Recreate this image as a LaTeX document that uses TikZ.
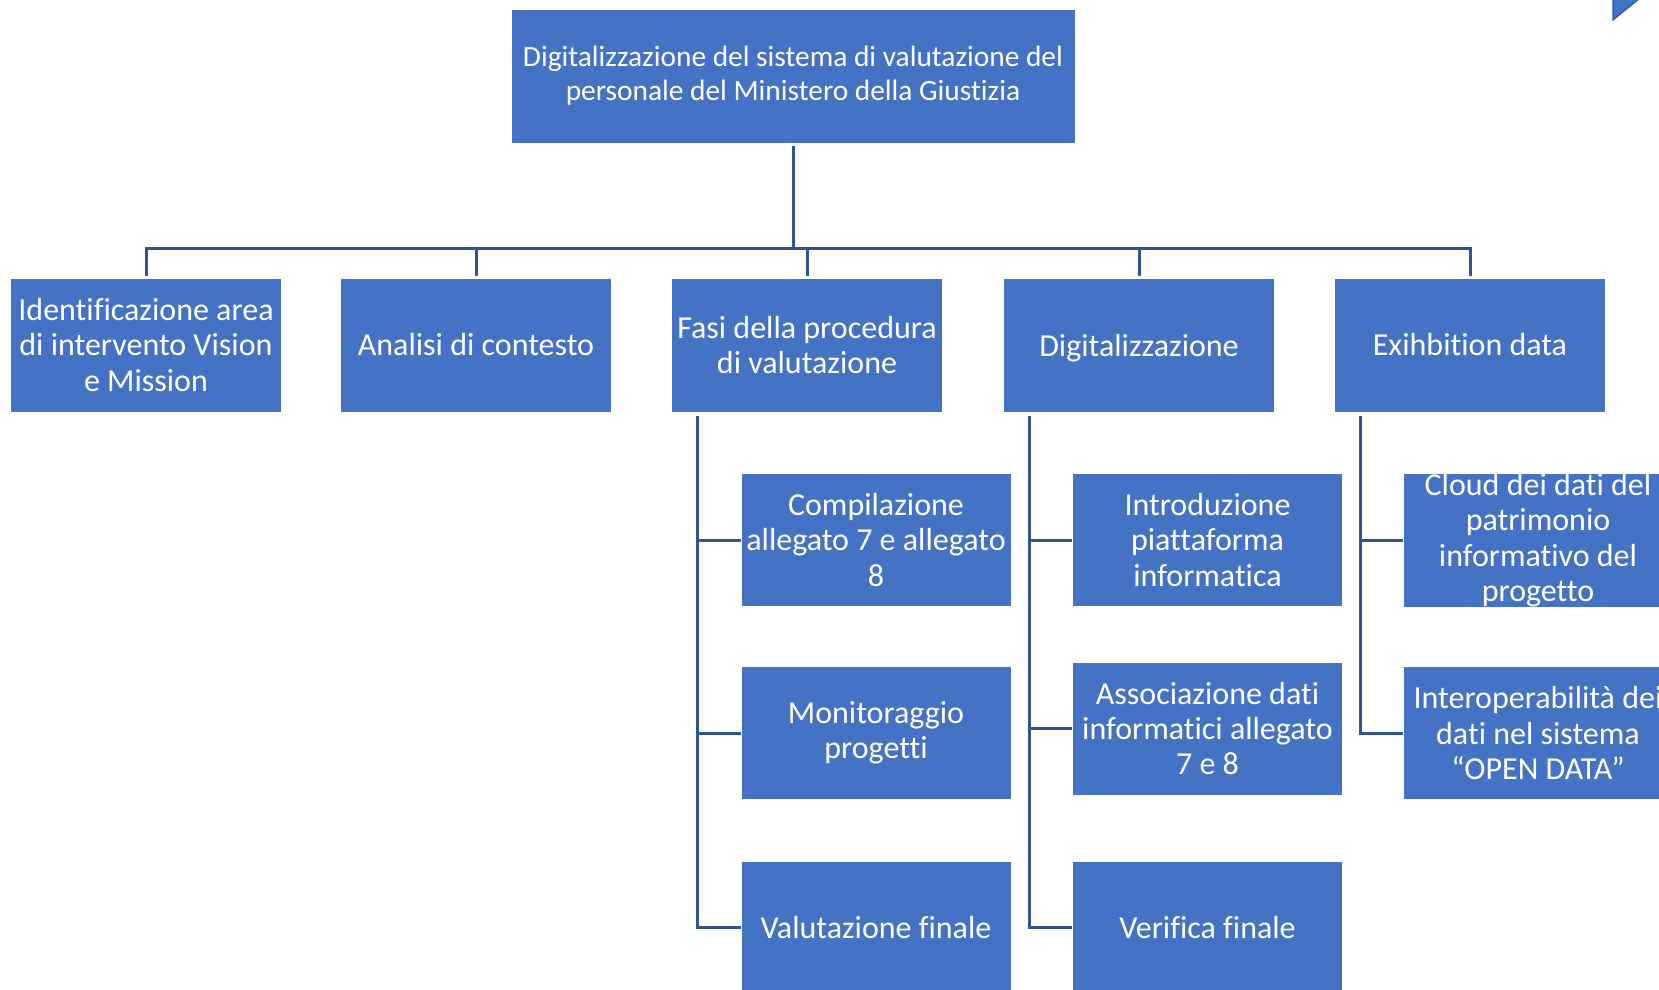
\documentclass[tikz,border=0pt]{standalone}
\usepackage{fontspec}
\setmainfont{Carlito}[RawFeature={-liga;-clig;-calt}]
\usepackage{xcolor}
\usetikzlibrary{calc}
\definecolor{boxblue}{HTML}{4472C4}
\definecolor{lineblue}{HTML}{2F5597}
\tikzset{
  orgnode/.style = {align=center, inner sep=0pt, text centered,
    fill=boxblue, draw=white, line width=0.4pt, text=white},
  org_top/.style = {orgnode, minimum width=282pt, minimum height=67pt,
    font=\fontsize{14.7}{17}\selectfont},% nodo radice
  org_a/.style = {orgnode, minimum width=135.5pt, minimum height=67pt,
    font=\fontsize{16}{17.7}\selectfont},% primo livello
  org_b/.style = {orgnode, minimum width=135pt, minimum height=66.5pt,
    font=\fontsize{16}{17.7}\selectfont},% secondo livello
  org_l/.style = {draw=lineblue, line width=1.5pt}% connettore
}

\begin{document}
\begin{tikzpicture}[x=0.5pt, y=-0.5pt]
\clip (0,0) rectangle (1659,990);

\node[org_top] (root) at (793,76) {Digitalizzazione del sistema di valutazione del\\personale del Ministero della Giustizia};

\node[org_a] (a1) at (146,345)  {Identificazione area\\di intervento Vision\\e Mission};
\node[org_a] (a2) at (476,345)  {Analisi di contesto};
\node[org_a] (a3) at (807,345)  {Fasi della procedura\\di valutazione};
\node[org_a, text depth=0pt] (a4) at (1139,345) {Digitalizzazione};
\node[org_a] (a5) at (1470,345) {Exihbition data};

\node[org_b] (b1) at (876,540)   {Compilazione\\allegato 7 e allegato\\8};
\node[org_b] (b2) at (876,733)   {Monitoraggio\\progetti};
\node[org_b] (b3) at (876,927.5) {Valutazione finale};
\node[org_b] (c1) at (1207.5,540)   {Introduzione\\piattaforma\\informatica};
\node[org_b] (c2) at (1207.5,728.5) {Associazione dati\\informatici allegato\\7 e 8};
\node[org_b] (c3) at (1207.5,927.5) {Verifica finale};
\node[org_b] (d1) at (1538,540) {Cloud dei dati del\\patrimonio\\informativo del\\progetto};
\node[org_b] (d2) at (1538,733) {Interoperabilità dei\\dati nel sistema\\“OPEN DATA”};

\coordinate (bar) at (0,248);

\draw[org_l] ($(root.south)+(0,3)$) -- (root.south |- bar);
\draw[org_l] ($(a1.north)+(0,-2)$) |- (bar -| a5.north) -- ($(a5.north)+(0,-2)$);
\draw[org_l] ($(a2.north)+(0,-2)$) -- (a2.north |- bar);
\draw[org_l] ($(a3.north)+(0,-2)$) -- (a3.north |- bar);
\draw[org_l] ($(a4.north)+(0,-2)$) -- (a4.north |- bar);

\draw[org_l] ($(a3.south west)+(26,4)$) |- (b1.west);
\draw[org_l] ($(a3.south west)+(26,4)$) |- (b2.west);
\draw[org_l] ($(a3.south west)+(26,4)$) |- (b3.west);
\draw[org_l] ($(a4.south west)+(26,4)$) |- (c1.west);
\draw[org_l] ($(a4.south west)+(26,4)$) |- (c2.west);
\draw[org_l] ($(a4.south west)+(26,4)$) |- (c3.west);
\draw[org_l] ($(a5.south west)+(26,4)$) |- (d1.west);
\draw[org_l] ($(a5.south west)+(26,4)$) |- (d2.west);

% angolo in alto a destra
\filldraw[fill=boxblue, draw=lineblue, line width=0.6pt] (1613,-2) -- (1613,20) -- (1640,-2) -- cycle;
\end{tikzpicture}
\end{document}
